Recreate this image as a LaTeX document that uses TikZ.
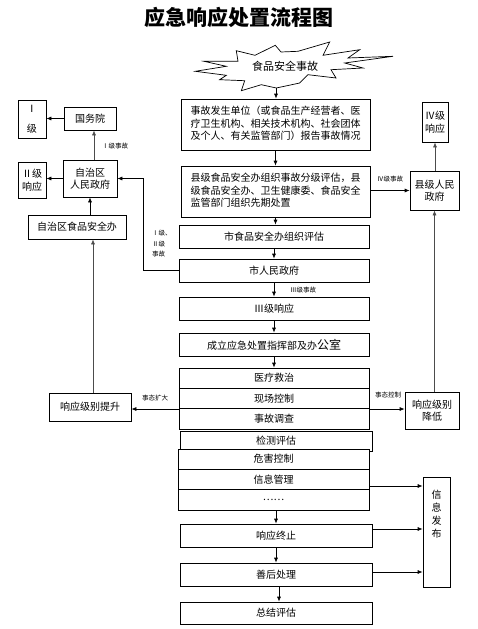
\documentclass[tikz,border=0pt]{standalone}
\usepackage{fontspec}
\setmainfont{Noto Sans CJK SC}
\usetikzlibrary{arrows.meta,calc}
\begin{document}
\begin{tikzpicture}[x=1pt,y=-1pt,
  box/.style={draw, line width=0.7pt, inner sep=1pt, align=center, fill=white,
    font=\fontsize{10}{12.5}\selectfont},
  sz/.style n args={2}{minimum width=#1pt, minimum height=#2pt},
  arr/.style={-{Latex[length=5pt,width=4pt]}, line width=0.7pt},
  garr/.style={arr, draw=black!70},
  lbl/.style={font=\fontsize{6.5}{8.5}\selectfont, inner sep=0, align=left}]
\useasboundingbox (0,0) rectangle (478,629);

% title
\node[font=\fontsize{21}{21}\selectfont\bfseries] (title) at (239,17) {应急响应处置流程图};

% burst
\draw[line width=0.7pt, fill=white] (236.3,50.7) -- (255,55.3) -- (275.3,45.3) -- (281,52) -- (298,51.3)
  -- (329.7,42) -- (323,55.3) -- (359.7,49.7) -- (348,58) -- (393,56.3) -- (344.7,63)
  -- (363,68) -- (331,69.7) -- (336,78) -- (308,74.7) -- (299.7,83) -- (276.3,88)
  -- (261.3,84.7) -- (241.3,90.7) -- (244.7,80.7) -- (219.7,79.7) -- (226.3,75.3)
  -- (195.3,71.3) -- (226.3,66.3) -- (204,61.3) -- (238,61.3) -- cycle;
\node[font=\fontsize{11}{11}\selectfont] (burst) at (285,66) {食品安全事故};
\coordinate (burstb) at (276,88);

% centre column
\node[box, sz={189}{51}] (b1) at (275.5,124.5) {\begin{tabular}{@{}l@{}}事故发生单位（或食品生产经营者、医\\疗卫生机构、相关技术机构、社会团体\\及个人、有关监管部门）报告事故情况\end{tabular}};
\node[box, sz={189}{51}] (b2) at (275.5,191.5) {\begin{tabular}{@{}l@{}}县级食品安全办组织事故分级评估，县\\级食品安全办、卫生健康委、食品安全\\监管部门组织先期处置\end{tabular}};
\node[box, sz={190}{23}] (b3) at (274,236.5) {市食品安全办组织评估};
\node[box, sz={190}{23}] (b4) at (274,270.5) {市人民政府};
\node[box, sz={190}{23}] (b5) at (274,308.5) {Ⅲ级响应};
\node[box, sz={190}{23}] (b6) at (274,344.5) {成立应急处置指挥部及办{\fontsize{12}{12}\selectfont 公室}};
\node[box, sz={190}{20.33}] (c1) at (274,378.17) {医疗救治};
\node[box, sz={190}{20.33}] (c2) at (274,398.5) {现场控制};
\node[box, sz={190}{20.33}] (c3) at (274,418.83) {事故调查};
\node[box, sz={192}{20}] (jc) at (276,441) {检测评估};
\node[box, sz={191}{20.33}] (c4) at (273.5,459.17) {危害控制};
\node[box, sz={191}{20.33}] (c5) at (273.5,479.5) {信息管理};
\node[box, sz={191}{20.33}] (c6) at (273.5,499.83) {……};
\node[box, sz={192}{23}] (zz) at (276,535.5) {响应终止};
\node[box, sz={192}{23}] (sh) at (276,574.5) {善后处理};
\node[box, sz={192}{22}] (zj) at (276,613) {总结评估};

% info release
\node[box, sz={27}{110}] (xx) at (436.5,532) {};
\node[font=\fontsize{10}{12.8}\selectfont, align=center] (xxt) at ([yshift=18pt]xx.center) {信\\息\\发\\布};

% left column
\node[box, sz={28}{38}] (L1) at (32,119) {Ⅰ\\[8pt]级};
\node[box, sz={52}{23}] (gwy) at (90,118.5) {国务院};
\node[box, sz={54}{37}] (zzq) at (90,178.5) {自治区\\人民政府};
\node[box, sz={28}{36}] (L2) at (32,180) {Ⅱ级\\响应};
\node[box, sz={98}{24}] (zsb) at (77,227) {自治区食品安全办};
\node[box, sz={82}{28}] (ts) at (90,407) {响应级别提升};

% right column
\node[box, sz={26}{40}] (R4) at (435,122) {Ⅳ级\\响应};
\node[box, sz={49}{39}] (xj) at (434.5,190.5) {县级人民\\政府};
\node[box, sz={54}{37}] (jd) at (432,410.5) {响应级别\\降低};

% centre arrows
\draw[arr] (burstb) -- (burstb |- b1.north);
\draw[arr] (b1.south) -- (b2.north);
\draw[arr] (b2.south) -- (b2.south |- b3.north);
\draw[arr] (b3.south) -- (b4.north);
\draw[arr] (b4.south) -- (b5.north);
\draw[arr] (b5.south) -- (b6.north);
\draw[arr] (b6.south) -- (c1.north);
\draw[arr] (c6.south -| zz.north) -- (zz.north);
\draw[arr] (zz.south) -- (sh.north);
\draw[arr] ([xshift=3pt]sh.south) -- ([xshift=3pt]zj.north);
\node[lbl] (l3) at (303,290) {Ⅲ级事故};

% info arrows
\draw[arr] ([yshift=-6.5pt]c5.east) -- ([yshift=-6.5pt]c5.east -| xx.west);
\draw[arr] ([yshift=6.5pt]zz.east) -- ([yshift=6.5pt]zz.east -| xx.west);
\draw[arr] ([yshift=2.5pt]sh.east) -- ([yshift=2.5pt]sh.east -| xx.west);

% left arrows
\draw[arr] (gwy.west) -- (gwy.west -| L1.east);
\draw[garr] ([xshift=4pt]zzq.north) -- ([xshift=4pt]gwy.south);
\node[lbl] (l1) at (115,146) {Ⅰ级事故};
\draw[arr] (zzq.west) -- (zzq.west -| L2.east);
\draw[arr] (zsb.north -| zzq.south) -- (zzq.south);
\draw[garr] ([xshift=3pt]ts.north) -- ([xshift=3pt]ts.north |- zsb.south);
\draw[arr] (b4.west) -- ++(-35,0) |- (zzq.east);
\node[lbl, anchor=north west] (l12) at (152,230) {Ⅰ级、\\[2pt]Ⅱ级\\[2pt]事故};
\draw[arr] (c2.south west) -- (c2.south west -| ts.east);
\node[lbl] (lkd) at (155,398) {事态扩大};

% right arrows
\draw[arr] (b2.east |- xj.west) -- (xj.west);
\node[lbl] (l4) at (390,179) {Ⅳ级事故};
\draw[garr] (xj.north -| R4.south) -- (R4.south);
\draw[garr] (jd.north -| xj.south) -- (xj.south);
\draw[arr] (c2.south east) -- (c2.south east -| jd.west);
\node[lbl] (lkz) at (388,395) {事态控制};
\end{tikzpicture}
\end{document}
